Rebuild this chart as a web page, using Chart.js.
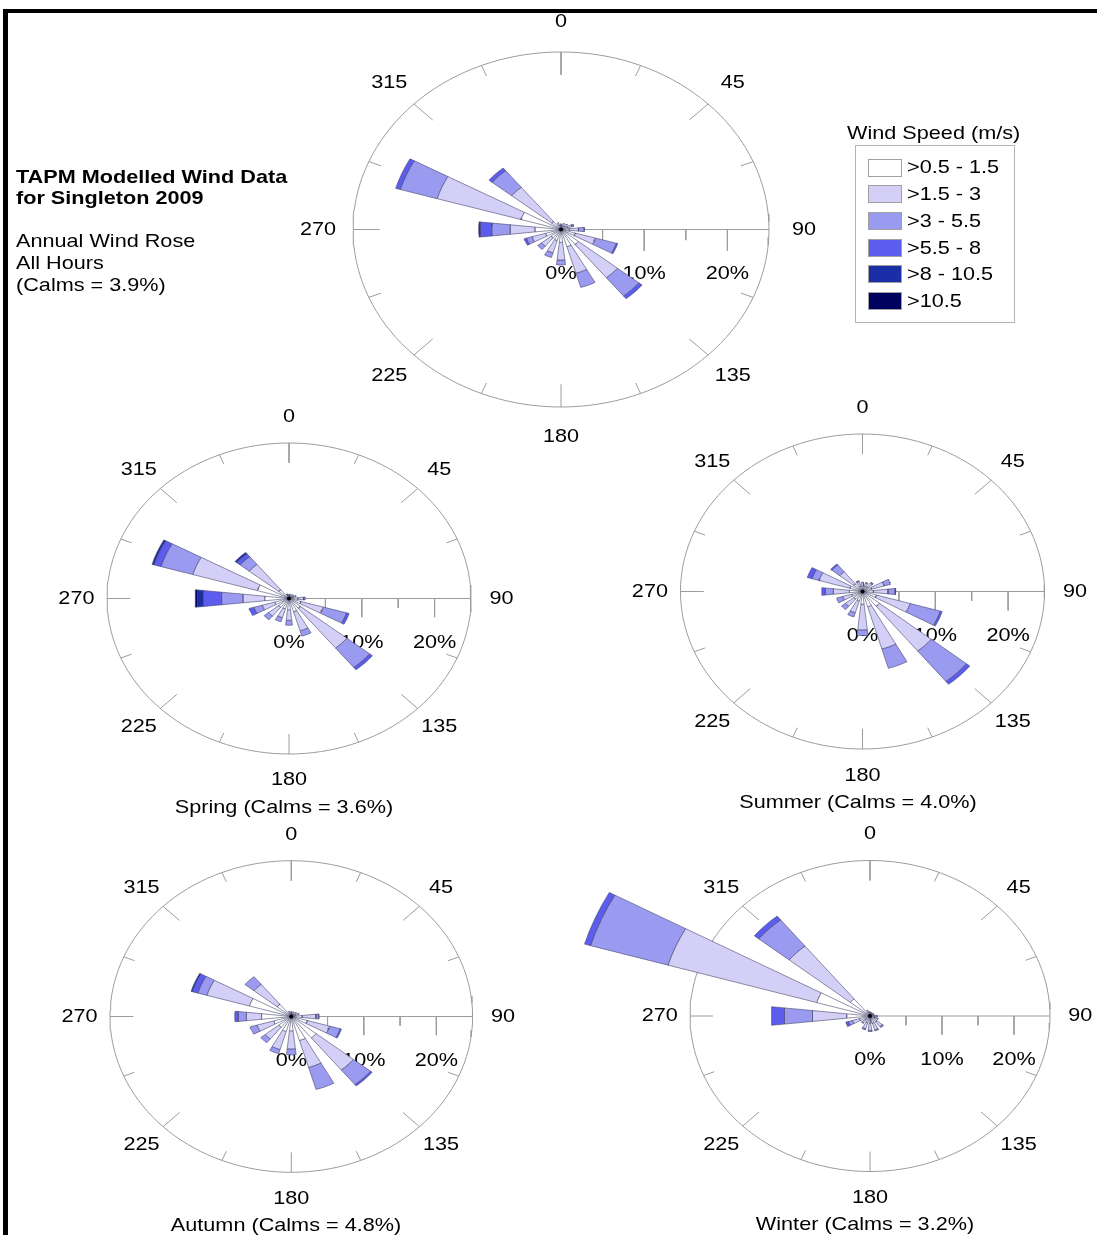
<!DOCTYPE html>
<html>
<head>
<meta charset="utf-8">
<title>TAPM Modelled Wind Data for Singleton 2009</title>
<script src="https://cdn.jsdelivr.net/npm/chart.js@4.4.1/dist/chart.umd.min.js"></script>
<style>
  html, body { margin: 0; padding: 0; background: #fff; }
  #page { position: relative; width: 1097px; height: 1235px; overflow: hidden;
          font-family: "Liberation Sans", Arial, sans-serif; color: #000; }
  #page canvas { position: absolute; left: 0; top: 0; }
  .t { position: absolute; white-space: nowrap; font-size: 18.5px; line-height: 18.5px;
       transform-origin: 0 50%; transform: scaleX(1.17); }
  .c { position: absolute; white-space: nowrap; font-size: 18.5px; line-height: 18.5px;
       transform: translate(-50%, -50%) scaleX(1.17); }
  .bar { position: absolute; background: #000; }
  #legendBox { position: absolute; left: 855px; top: 145px; width: 158px; height: 176px;
               border: 1px solid #b4b4b4; background: #fff; }
  .sw { position: absolute; width: 32px; height: 16px; border: 1px solid #a0a0a0; }
</style>
</head>
<body>
<div id="page">
  <div class="bar" style="left:3px;top:9px;width:1094px;height:4px"></div>
  <div class="bar" style="left:3px;top:9px;width:5px;height:1226px"></div>
  <div id="legendBox"></div>
</div>
<script>
const W = 1097, H = 1235;

const directions = [0, 22.5, 45, 67.5, 90, 112.5, 135, 157.5, 180, 202.5, 225, 247.5, 270, 292.5, 315, 337.5];
const speedBins = [">0.5 - 1.5", ">1.5 - 3", ">3 - 5.5", ">5.5 - 8", ">8 - 10.5", ">10.5"];
const compassLabels = [0, 45, 90, 135, 180, 225, 270, 315];
const ringLabels = [0, 10, 20];
const ringTicks = [5, 10, 15, 20];
const maxPercent = 25;

const roseNames = ["Annual", "Spring", "Summer", "Autumn", "Winter"];
const calmsPct = [3.9, 3.6, 4.0, 4.8, 3.2];

// % of hours, one row per direction, one column per speed bin
const annual = [
  [0.5, 0.3, 0, 0, 0, 0],
  [0.5, 0.4, 0, 0, 0, 0],
  [0.6, 0.4, 0, 0, 0, 0],
  [0.8, 0.6, 0.2, 0, 0, 0],
  [1.0, 1.1, 0.7, 0, 0, 0],
  [1.8, 2.5, 2.6, 0.2, 0, 0],
  [2.7, 6.0, 3.3, 0.5, 0, 0],
  [2.5, 3.9, 2.1, 0, 0, 0],
  [1.8, 2.5, 0.7, 0, 0, 0],
  [1.6, 1.8, 0.7, 0, 0, 0],
  [1.5, 1.5, 0.6, 0, 0, 0],
  [1.9, 1.7, 0.7, 0.3, 0, 0],
  [3.1, 3.0, 2.2, 1.4, 0.2, 0],
  [5.0, 10.5, 4.6, 0.6, 0, 0],
  [1.4, 6.2, 3.0, 0.5, 0, 0],
  [0.6, 0.4, 0, 0, 0, 0],
];
const spring = [
  [0.4, 0.3, 0, 0, 0, 0],
  [0.4, 0.3, 0, 0, 0, 0],
  [0.5, 0.3, 0, 0, 0, 0],
  [0.6, 0.4, 0, 0, 0, 0],
  [1.2, 0.8, 0.2, 0, 0, 0],
  [1.7, 3.2, 3.3, 0.4, 0, 0],
  [2.0, 8.2, 4.0, 0.5, 0, 0],
  [2.2, 3.2, 0.9, 0, 0, 0],
  [1.8, 1.7, 0.8, 0, 0, 0],
  [1.7, 1.5, 0.7, 0, 0, 0],
  [1.8, 1.8, 0.8, 0, 0, 0],
  [2.0, 1.8, 1.2, 0.7, 0, 0],
  [3.3, 3.0, 2.95, 2.55, 0.8, 0.3],
  [4.5, 9.25, 4.55, 1.0, 0.3, 0],
  [1.8, 5.2, 1.6, 0.6, 0.3, 0],
  [0.5, 0.3, 0, 0, 0, 0],
];
const summer = [
  [0.8, 0.7, 0, 0, 0, 0],
  [0.8, 0.6, 0.1, 0, 0, 0],
  [0.9, 0.8, 0.2, 0, 0, 0],
  [1.3, 1.8, 0.9, 0, 0, 0],
  [1.5, 2.0, 1.0, 0.1, 0, 0],
  [2.0, 4.8, 4.3, 0.3, 0, 0],
  [3.0, 9.1, 6.2, 0.6, 0, 0],
  [2.5, 7.0, 3.2, 0, 0, 0],
  [2.0, 4.1, 0.9, 0, 0, 0],
  [1.5, 2.0, 0.7, 0, 0, 0],
  [1.5, 1.5, 0.7, 0, 0, 0],
  [1.5, 1.3, 0.9, 0, 0, 0],
  [1.8, 2.2, 1.1, 0.5, 0, 0],
  [1.8, 4.4, 1.0, 0.7, 0, 0],
  [1.5, 2.5, 1.4, 0.2, 0, 0],
  [0.8, 0.8, 0.2, 0, 0, 0],
];
const autumn = [
  [0.5, 0.3, 0, 0, 0, 0],
  [0.5, 0.3, 0, 0, 0, 0],
  [0.5, 0.4, 0, 0, 0, 0],
  [0.6, 0.5, 0, 0, 0, 0],
  [1.5, 1.9, 0.4, 0, 0, 0],
  [2.3, 3.2, 1.5, 0.2, 0, 0],
  [4.4, 6.6, 3.0, 0.3, 0, 0],
  [4.0, 4.5, 3.7, 0, 0, 0],
  [2.3, 2.9, 0.95, 0, 0, 0],
  [2.5, 3.0, 0.7, 0, 0, 0],
  [2.2, 2.4, 0.8, 0, 0, 0],
  [2.5, 2.4, 1.0, 0, 0, 0],
  [4.1, 2.1, 1.1, 0.5, 0, 0],
  [6.0, 6.1, 1.3, 0.8, 0.2, 0],
  [2.5, 4.1, 1.6, 0, 0, 0],
  [0.5, 0.4, 0, 0, 0, 0],
];
const winter = [
  [0.4, 0.3, 0, 0, 0, 0],
  [0.4, 0.2, 0, 0, 0, 0],
  [0.4, 0.2, 0, 0, 0, 0],
  [0.4, 0.2, 0, 0, 0, 0],
  [0.6, 0.4, 0, 0, 0, 0],
  [0.7, 0.5, 0, 0, 0, 0],
  [1.2, 1.0, 0.2, 0, 0, 0],
  [1.2, 1.1, 0.2, 0, 0, 0],
  [1.2, 1.1, 0.2, 0, 0, 0],
  [1.1, 1.0, 0.2, 0, 0, 0],
  [0.8, 0.6, 0.1, 0, 0, 0],
  [1.5, 1.0, 0.6, 0.4, 0, 0],
  [3.2, 4.8, 3.9, 1.8, 0, 0],
  [7.7, 21.5, 11.2, 0.9, 0, 0],
  [3.5, 10.9, 5.4, 0.8, 0, 0],
  [0.6, 0.4, 0, 0, 0, 0],
];

const binColors = ["#ffffff", "#d3cff6", "#9a9af1", "#5c5cef", "#1a2ea8", "#00005e"];
const gridColor = "#9c9c9c";
const STRETCH = 1.17;     // the original figure is stretched horizontally
const HALF_WIDTH = 6.25;  // petal half width, degrees
const LABEL_R = 29.2;

// layout of each rose on the page (px)
const roses = [
  { rows: annual, cx: 561,   cy: 229.5,  rx: 208,   ry: 177.5, xMin: -27, caption: false },
  { rows: spring, cx: 289,   cy: 598.5,  rx: 182,   ry: 155.5, xMin: -27, caption: true },
  { rows: summer, cx: 862.5, cy: 591.5,  rx: 182,   ry: 157.5, xMin: -27, caption: true },
  { rows: autumn, cx: 291.3, cy: 1016.5, rx: 181.3, ry: 155.8, xMin: -27, caption: true },
  { rows: winter, cx: 870,   cy: 1016,   rx: 180,   ry: 155.5, xMin: -45, caption: true },
];

const rad = (d) => d * Math.PI / 180;
const polar = (r, d) => ({ x: r * Math.sin(rad(d)), y: r * Math.cos(rad(d)) });

function sector(dir, r0, r1) {
  const pts = [];
  const steps = 4;
  for (let k = 0; k <= steps; k++) pts.push(polar(r1, dir - HALF_WIDTH + (2 * HALF_WIDTH * k) / steps));
  if (r0 > 0) {
    for (let k = steps; k >= 0; k--) pts.push(polar(r0, dir - HALF_WIDTH + (2 * HALF_WIDTH * k) / steps));
  } else {
    pts.push({ x: 0, y: 0 });
  }
  pts.push(pts[0]);
  return pts;
}

function gridSets() {
  const sets = [];
  const line = (data) => ({ data, borderColor: gridColor, borderWidth: 1, pointRadius: 0, fill: false, order: 2 });
  const circle = [];
  for (let d = 0; d <= 360; d += 2.5) circle.push(polar(maxPercent, d));
  sets.push(line(circle));
  // radial axis towards 90 with its percent ticks
  sets.push(line([{ x: 0, y: 0 }, { x: maxPercent, y: 0 }]));
  ringTicks.forEach((p) => sets.push(line([{ x: p, y: 0 }, { x: p, y: p % 10 === 0 ? -3 : -1.5 }])));
  // inward ticks on the outer circle
  directions.forEach((d) => {
    if (d === 90) return;
    const len = d % 45 === 0 ? 3.2 : 1.6;
    sets.push(line([polar(maxPercent, d), polar(maxPercent - len, d)]));
  });
  return sets;
}

function drawText(ctx, s, px, py) {
  ctx.save();
  ctx.translate(px, py);
  ctx.scale(STRETCH, 1);
  ctx.fillText(s, 0, 0);
  ctx.restore();
}

const roseLabels = {
  id: "roseLabels",
  beforeDatasetsDraw(chart) {
    const { ctx, scales: { x, y } } = chart;
    ctx.save();
    ctx.font = '18.5px "Liberation Sans", Arial, sans-serif';
    ctx.fillStyle = "#000";
    ctx.textAlign = "center";
    ctx.textBaseline = "middle";
    compassLabels.forEach((d) => {
      const p = polar(LABEL_R, d);
      drawText(ctx, String(d), x.getPixelForValue(p.x), y.getPixelForValue(p.y));
    });
    ringLabels.forEach((v) => {
      drawText(ctx, v + "%", x.getPixelForValue(v), y.getPixelForValue(0) + 44);
    });
    ctx.restore();
  },
};

const page = document.getElementById("page");

roses.forEach((rose, idx) => {
  const kx = rose.rx / maxPercent, ky = rose.ry / maxPercent;
  const xMax = 27, yMin = -27, yMax = 27;
  const datasets = [];

  rose.rows.forEach((row, i) => {
    let r = 0;
    row.forEach((v, b) => {
      if (v <= 0) return;
      datasets.push({
        data: sector(directions[i], r, r + v),
        backgroundColor: binColors[b],
        borderColor: "rgba(70,70,110,0.85)",
        borderWidth: 0.7,
        pointRadius: 0,
        fill: "shape",
        order: 1,
      });
      r += v;
    });
  });
  datasets.push({ data: [{ x: 0, y: 0 }], showLine: false, pointRadius: 2, pointBackgroundColor: "#000",
                  pointBorderWidth: 0, order: 0 });
  datasets.push(...gridSets());

  const canvas = document.createElement("canvas");
  canvas.width = W;
  canvas.height = H;
  page.appendChild(canvas);

  new Chart(canvas, {
    type: "line",
    data: { datasets },
    options: {
      responsive: false,
      animation: false,
      events: [],
      layout: {
        padding: {
          left: rose.cx + rose.xMin * kx,
          right: W - (rose.cx + xMax * kx),
          top: rose.cy - yMax * ky,
          bottom: H - (rose.cy - yMin * ky),
        },
      },
      scales: {
        x: { type: "linear", min: rose.xMin, max: xMax, display: false },
        y: { type: "linear", min: yMin, max: yMax, display: false },
      },
      elements: { line: { tension: 0 } },
      plugins: { legend: { display: false }, tooltip: { enabled: false } },
    },
    plugins: [roseLabels],
  });

  if (rose.caption) {
    const cap = document.createElement("div");
    cap.className = "c";
    cap.textContent = roseNames[idx] + " (Calms = " + calmsPct[idx].toFixed(1) + "%)";
    cap.style.left = rose.cx - 5 + "px";
    cap.style.top = rose.cy + rose.ry + 52.5 + "px";
    page.appendChild(cap);
  }
});

// text block, top left (baseline positions)
function addText(text, left, baseline, bold) {
  const d = document.createElement("div");
  d.className = "t";
  d.textContent = text;
  d.style.left = left + "px";
  d.style.top = baseline - 15.7 + "px";
  if (bold) d.style.fontWeight = "bold";
  page.appendChild(d);
}
addText("TAPM Modelled Wind Data", 16, 184, true);
addText("for Singleton 2009", 16, 205, true);
addText(roseNames[0] + " Wind Rose", 16, 248, false);
addText("All Hours", 16, 270, false);
addText("(Calms = " + calmsPct[0].toFixed(1) + "%)", 16, 292, false);

// legend
addText("Wind Speed (m/s)", 847, 140, false);
speedBins.forEach((label, i) => {
  const top = 158.5 + i * 26.7;
  const sw = document.createElement("div");
  sw.className = "sw";
  sw.style.left = "868px";
  sw.style.top = top + "px";
  sw.style.background = binColors[i];
  page.appendChild(sw);
  addText(label, 907, top + 9 + 6.6, false);
});
</script>
</body>
</html>
